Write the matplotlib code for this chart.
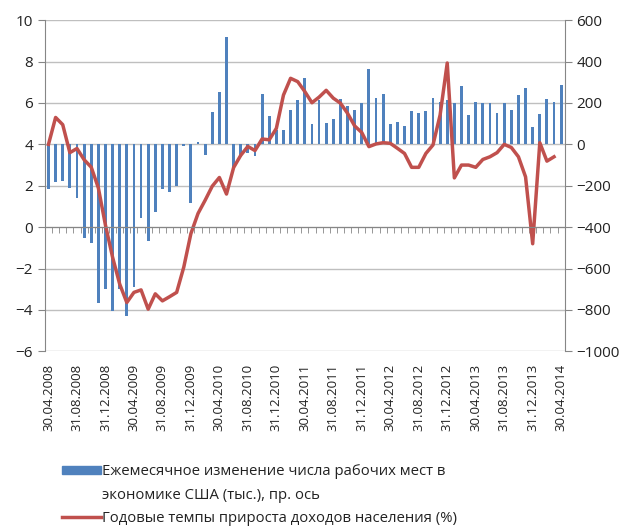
import numpy as np
import pandas as pd
import matplotlib
matplotlib.use('Agg')
import matplotlib.pyplot as plt
from matplotlib.patches import Patch
from matplotlib.lines import Line2D

plt.rcParams['font.family'] = ['Open Sans', 'DejaVu Sans']

# monthly categories, 30.04.2008 .. 30.04.2014
dates = pd.date_range('2008-04-30', '2014-04-30', freq='ME')
date_labels = [d.strftime('%d.%m.%Y') for d in dates]

# monthly change in US payrolls, thousands (right axis)
jobs = [-218, -184, -175, -212, -260, -454, -478, -768, -700, -805,
        -701, -829, -687, -357, -469, -328, -218, -228, -202, -6,
        -284, 13, -53, 155, 254, 517, -110, -61, -42, -58,
        242, 136, 68, 68, 168, 213, 320, 100, 216, 103,
        121, 221, 185, 166, 198, 363, 226, 244, 97, 108,
        89, 161, 150, 161, 226, 206, 215, 198, 282, 142,
        205, 198, 198, 150, 202, 166, 239, 273, 85, 145,
        221, 205, 289]

# annual growth of personal income, % (left axis), last month not available
income = [4.0, 5.3, 4.95, 3.6, 3.8, 3.26, 2.9, 1.9, 0.1, -1.45,
          -2.75, -3.64, -3.15, -3.03, -3.96, -3.22, -3.56, -3.36, -3.15, -1.93,
          -0.31, 0.66, 1.30, 1.98, 2.40, 1.60, 2.88, 3.47, 3.9, 3.70,
          4.26, 4.22, 4.77, 6.38, 7.19, 7.03, 6.55, 6.01, 6.28, 6.61,
          6.23, 5.99, 5.50, 4.89, 4.57, 3.89, 4.02, 4.08, 4.05, 3.81,
          3.56, 2.89, 2.89, 3.56, 3.97, 5.42, 7.93, 2.38, 3.0, 3.0,
          2.89, 3.27, 3.40, 3.60, 4.0, 3.85, 3.40, 2.43, -0.80, 4.08,
          3.19, 3.40, np.nan]

jobs_label = ['Ежемесячное изменение числа рабочих мест в',
              'экономике США (тыс.), пр. ось']
income_label = 'Годовые темпы прироста доходов населения (%)'

blue = '#4F81BD'
red = '#C0504D'
gray = '#868686'
grid = '#BFBFBF'

x = np.arange(len(dates))

fig = plt.figure(figsize=(6.24, 5.30), dpi=100)
ax1 = fig.add_axes([0.072, 0.337, 0.833, 0.625])
ax2 = ax1.twinx()
# line axes on top of the bar axes
ax1.set_zorder(ax2.get_zorder() + 1)
ax1.patch.set_visible(False)

# bars on the right axis
ax2.bar(x, jobs, width=0.4, color=blue, zorder=2)
ax2.set_ylim(-1000, 600)
ax2.set_yticks(np.arange(-1000, 601, 200))
ax2.grid(axis='y', color=grid, lw=1, zorder=0)
ax2.set_axisbelow(True)

# line on the left axis
ax1.plot(x, income, color=red, lw=2.5, solid_joinstyle='round')
ax1.set_ylim(-6, 10)
ax1.set_yticks(np.arange(-6, 11, 2))
ax1.set_xlim(-0.5, len(dates) - 0.5)

# category axis crossing at 0 on the left scale
ax1.set_xticks(x[::4], [date_labels[i] for i in x[::4]])
ax1.set_xticks(np.arange(len(dates) + 1) - 0.5, minor=True)
ax1.spines['bottom'].set_position(('data', 0))
ax1.spines['bottom'].set_color(gray)
ax1.tick_params(axis='x', which='major', length=0, labelbottom=False)
ax1.tick_params(axis='x', which='minor', length=4, direction='out', color=gray)

ax2.xaxis.set_visible(True)
ax2.tick_params(axis='x', which='major', length=0, labelsize=9.5,
                labelrotation=90, pad=9, labelcolor='#222222')
ax2.tick_params(axis='x', which='minor', length=0)

for s in ['top', 'right']:
    ax1.spines[s].set_visible(False)
for s in ['top', 'bottom', 'left']:
    ax2.spines[s].set_visible(False)
ax1.spines['left'].set_color(gray)
ax2.spines['right'].set_color(gray)

ax1.tick_params(axis='y', length=5, color=gray, labelsize=11, labelcolor='#222222')
ax2.tick_params(axis='y', length=5, color=gray, labelsize=11, labelcolor='#222222')

# legend: the jobs label wraps onto a second row with no handle
handles = [Patch(color=blue), Patch(alpha=0), Line2D([], [], color=red, lw=2.5)]
labels = [jobs_label[0], jobs_label[1], income_label]
fig.legend(handles, labels, loc='upper left',
           bbox_to_anchor=(0.09, 0.135), frameon=False, fontsize=10.7,
           handlelength=2.6, handleheight=0.5, handletextpad=0.1,
           labelspacing=0.55, borderaxespad=0, labelcolor='#222222')

fig.savefig('out.png', dpi=100)
